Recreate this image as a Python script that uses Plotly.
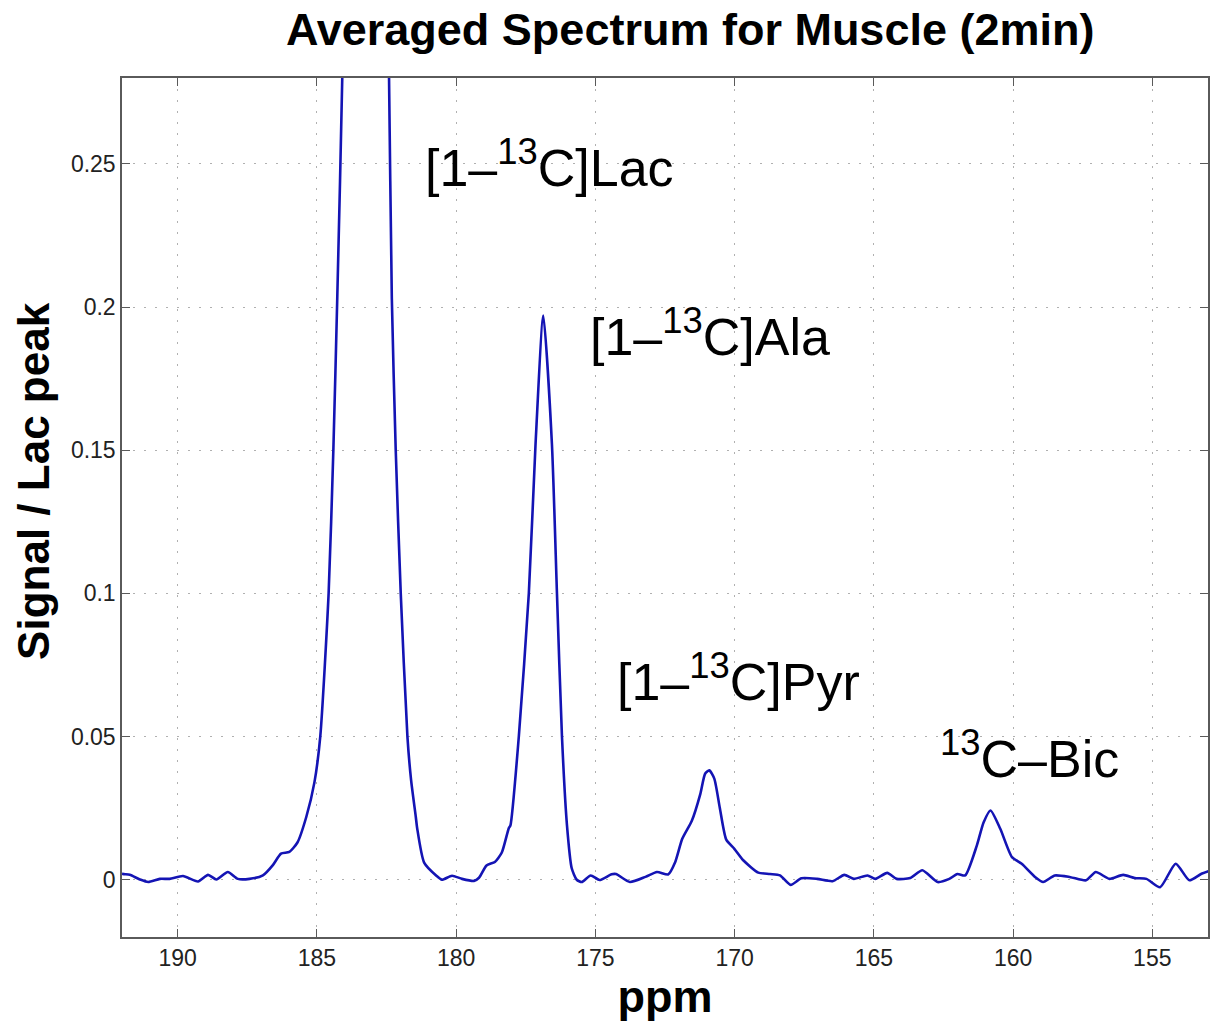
import plotly.graph_objects as go

# chemical shift (ppm) and normalised signal (Signal / Lac peak)
ppm = [192.00, 191.96, 191.72, 191.36, 191.06, 190.64, 190.29, 189.81, 189.27, 188.91,
       188.61, 188.20, 187.84, 187.42, 186.94, 186.59, 186.29, 185.99, 185.70, 185.38,
       185.09, 184.88, 184.58, 184.41, 184.27, 184.09, 183.77, 183.25, 182.73, 182.41,
       182.31, 182.17, 181.99, 181.75, 181.62, 181.45, 181.40, 181.15, 180.72, 180.51,
       180.15, 179.79, 179.36, 179.18, 178.91, 178.61, 178.36, 178.11, 178.05, 177.75,
       177.39, 177.15, 176.87, 176.56, 176.38, 176.20, 176.02, 175.85, 175.67, 175.49,
       175.17, 174.85, 174.42, 174.26, 173.76, 173.20, 172.79, 172.38, 172.14, 171.88,
       171.54, 171.23, 171.06, 170.91, 170.73, 170.53, 170.30, 170.01, 169.69, 169.15,
       168.73, 168.37, 167.99, 167.60, 167.04, 166.48, 166.06, 165.72, 165.23, 164.94,
       164.52, 164.18, 163.69, 163.26, 162.71, 162.29, 162.00, 161.72, 161.30, 161.06,
       160.81, 160.46, 160.04, 159.69, 159.20, 158.92, 158.50, 157.94, 157.38, 157.03,
       156.54, 156.05, 155.63, 155.21, 154.72, 154.16, 153.67, 153.25, 152.97]
signal = [0.0022, 0.0020, 0.0017, 0.0001, -0.0008, 0.0003, 0.0003, 0.0013, -0.0006, 0.0017,
          0.0001, 0.0027, 0.0003, 0.0003, 0.0015, 0.0050, 0.0091, 0.0097, 0.0130, 0.0220,
          0.0340, 0.0500, 0.1000, 0.1500, 0.2030, 0.2800, 0.5000, 1.0000, 0.5000, 0.2800,
          0.2030, 0.1500, 0.1000, 0.0500, 0.0350, 0.0220, 0.0180, 0.0060, 0.0015, 0.0000,
          0.0014, 0.0003, -0.0004, 0.0007, 0.0050, 0.0062, 0.0095, 0.0180, 0.0190, 0.0500,
          0.1000, 0.1520, 0.1970, 0.1520, 0.1000, 0.0500, 0.0190, 0.0040, 0.0000, -0.0008,
          0.0015, -0.0001, 0.0019, 0.0020, -0.0008, 0.0010, 0.0027, 0.0019, 0.0060, 0.0143,
          0.0205, 0.0300, 0.0370, 0.0382, 0.0353, 0.0250, 0.0140, 0.0108, 0.0068, 0.0025,
          0.0020, 0.0015, -0.0018, 0.0005, 0.0003, -0.0005, 0.0017, 0.0003, 0.0015, 0.0003,
          0.0024, 0.0003, 0.0006, 0.0033, -0.0008, 0.0003, 0.0020, 0.0015, 0.0120, 0.0200,
          0.0242, 0.0178, 0.0079, 0.0056, 0.0009, -0.0008, 0.0015, 0.0009, -0.0002, 0.0027,
          0.0003, 0.0017, 0.0006, 0.0003, -0.0026, 0.0056, -0.0002, 0.0020, 0.0030]

x_ticks = [190, 185, 180, 175, 170, 165, 160, 155]
y_ticks = [0, 0.05, 0.1, 0.15, 0.2, 0.25]
y_tick_labels = ["0", "0.05", "0.1", "0.15", "0.2", "0.25"]

peak_labels = ["[1\u2013<sup>13</sup>C]Lac", "[1\u2013<sup>13</sup>C]Ala",
               "[1\u2013<sup>13</sup>C]Pyr", "<sup>13</sup>C\u2013Bic"]
label_ppm = [176.66, 170.90, 169.85, 159.40]
label_val = [0.2500, 0.1910, 0.0705, 0.0435]

FONT = "Liberation Sans, Arial, Helvetica, sans-serif"

fig = go.Figure()
fig.add_trace(go.Scatter(
    x=ppm, y=signal, mode="lines",
    line=dict(color="#1414b4", width=2.6, shape="spline", smoothing=0.6),
    hoverinfo="x+y", showlegend=False,
))

for txt, xv, yv in zip(peak_labels, label_ppm, label_val):
    fig.add_annotation(x=xv, y=yv, xref="x", yref="y", text=txt, showarrow=False,
                       font=dict(family=FONT, size=52, color="#000000"),
                       xanchor="center", yanchor="middle")

fig.add_annotation(x=-0.081, y=0.531, xref="paper", yref="paper",
                   text="<b>Signal / Lac peak</b>", showarrow=False, textangle=-90,
                   font=dict(family=FONT, size=44, color="#000000"),
                   xanchor="center", yanchor="middle")

axis_common = dict(
    showline=True, linecolor="#5a5a5a", linewidth=1.5, mirror="ticks",
    ticks="inside", ticklen=8, tickwidth=1.3, tickcolor="#5a5a5a",
    showgrid=True, gridcolor="#b0b0b0", gridwidth=1, griddash="2px,9px",
    zeroline=False,
    tickfont=dict(family=FONT, size=23, color="#222222"),
)

fig.update_layout(
    width=1213, height=1022,
    margin=dict(l=122, r=3, t=78, b=85),
    paper_bgcolor="white", plot_bgcolor="white",
    title=dict(text="<b>Averaged Spectrum for Muscle (2min)</b>",
               x=0.569, xanchor="center", xref="container",
               y=0.987, yanchor="top", yref="container",
               font=dict(family=FONT, size=45, color="#000000")),
    xaxis=dict(range=[192, 153], tickvals=x_ticks,
               ticktext=[str(v) for v in x_ticks],
               title=dict(text="<b>ppm</b>", font=dict(family=FONT, size=45, color="#000000"),
                          standoff=12),
               **axis_common),
    yaxis=dict(range=[-0.02, 0.28], tickvals=y_ticks, ticktext=y_tick_labels,
               **axis_common),
)

fig.write_html(
    "out.html",
    config={"displayModeBar": False},
    post_script="document.body.style.margin='0';document.body.style.overflow='hidden';",
)
